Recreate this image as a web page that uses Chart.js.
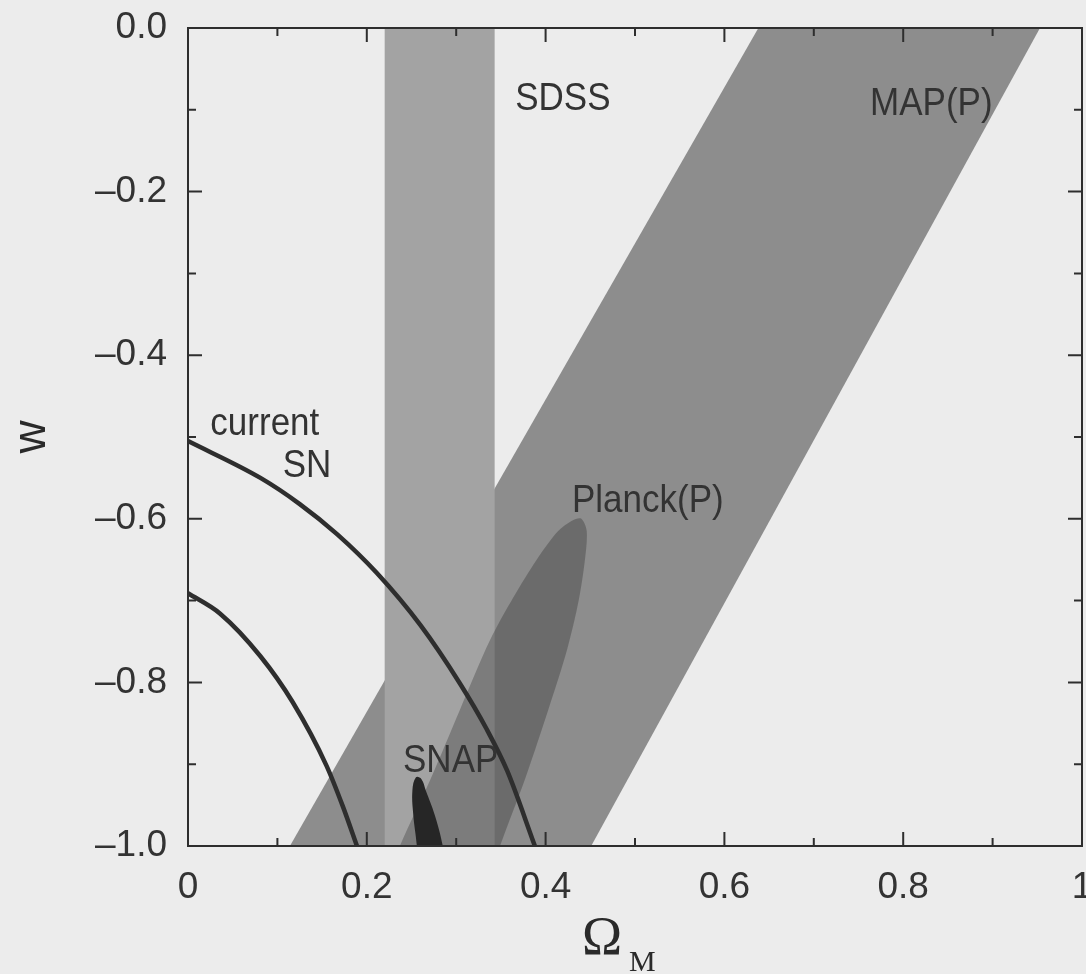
<!DOCTYPE html>
<html>
<head>
<meta charset="utf-8">
<script src="https://cdn.jsdelivr.net/npm/chart.js@4"></script>
<style>
  body { margin: 0; background: #ececec; }
  #wrap { width: 1086px; height: 974px; }
</style>
</head>
<body>
<div id="wrap"><canvas id="chart" width="1086" height="974"></canvas></div>
<script>
// axis ticks
const xTicks = [0, 0.2, 0.4, 0.6, 0.8, 1];
const xTickLabels = ['0', '0.2', '0.4', '0.6', '0.8', '1'];
const xMinorTicks = [0.1, 0.3, 0.5, 0.7, 0.9];
const yTicks = [-1, -0.8, -0.6, -0.4, -0.2, 0];
const yTickLabels = ['\u20131.0', '\u20130.8', '\u20130.6', '\u20130.4', '\u20130.2', '0.0'];
const yMinorTicks = [-0.9, -0.7, -0.5, -0.3, -0.1];

// MAP(P) band (Omega_M, w)
const mapOmega = [0.114, 0.638, 0.953, 0.451, 0.114];
const mapW = [-1.0, 0.0, 0.0, -1.0, -1.0];

// SDSS band
const sdssOmega = [0.220, 0.220, 0.343, 0.343, 0.220];
const sdssW = [-1.0, 0.0, 0.0, -1.0, -1.0];

// Planck(P) ellipse outline
const planckOmega = [0.228, 0.237, 0.271, 0.304, 0.338, 0.364, 0.390, 0.414, 0.430, 0.440, 0.446, 0.444, 0.437, 0.424, 0.404, 0.378, 0.349, 0.340, 0.228];
const planckW = [-1.03, -1.0, -0.919, -0.834, -0.748, -0.696, -0.650, -0.615, -0.602, -0.600, -0.615, -0.650, -0.700, -0.760, -0.830, -0.915, -1.0, -1.03, -1.03];

// SNAP ellipse outline
const snapOmega = [0.258, 0.256, 0.252, 0.251, 0.255, 0.261, 0.266, 0.276, 0.285, 0.290, 0.258];
const snapW = [-1.04, -1.0, -0.962, -0.932, -0.916, -0.918, -0.932, -0.962, -1.0, -1.04, -1.04];

// current SN contours
const snOuterOmega = [0, 0.081, 0.125, 0.167, 0.211, 0.260, 0.304, 0.334, 0.357, 0.388];
const snOuterW = [-0.505, -0.550, -0.582, -0.619, -0.666, -0.730, -0.801, -0.857, -0.908, -1.0];
const snInnerOmega = [0, 0.036, 0.081, 0.117, 0.155, 0.173, 0.189];
const snInnerW = [-0.691, -0.716, -0.768, -0.824, -0.902, -0.951, -1.0];

function pts(xs, ys) {
    return xs.map(function (x, i) { return { x: x, y: ys[i] }; });
}

const inkColor = '#2e2e2e';
const textFont = '"Liberation Sans", Arial, Helvetica, sans-serif';

// text placed in data coordinates (left / baseline)
const notes = [
    { text: 'SDSS', x: 0.366, y: -0.100 },
    { text: 'MAP(P)', x: 0.763, y: -0.106 },
    { text: 'current', x: 0.025, y: -0.498 },
    { text: 'SN', x: 0.106, y: -0.549 },
    { text: 'Planck(P)', x: 0.4295, y: -0.592 },
    { text: 'SNAP', x: 0.2405, y: -0.9095 }
];

const framePlugin = {
    id: 'frame',
    beforeDraw(chart) {
        const ctx = chart.ctx;
        ctx.save();
        ctx.fillStyle = '#ececec';
        ctx.fillRect(0, 0, chart.width, chart.height);
        ctx.restore();
    },
    afterDatasetsDraw(chart) {
        const ctx = chart.ctx;
        const a = chart.chartArea;
        const xs = chart.scales.x, ys = chart.scales.y;
        ctx.save();

        // labels inside the plot
        ctx.fillStyle = '#333';
        ctx.font = '35px ' + textFont;
        ctx.textAlign = 'left';
        ctx.textBaseline = 'alphabetic';
        notes.forEach(function (n) {
            const px = xs.getPixelForValue(n.x), py = ys.getPixelForValue(n.y);
            ctx.save();
            ctx.translate(px, py);
            ctx.scale(1, 1.1);
            ctx.fillText(n.text, 0, 0);
            ctx.restore();
        });

        // frame
        ctx.strokeStyle = inkColor;
        ctx.lineWidth = 2;
        ctx.strokeRect(a.left, a.top, a.right - a.left, a.bottom - a.top);

        // inward ticks on all four sides
        function xTick(v, len) {
            const p = xs.getPixelForValue(v);
            ctx.beginPath();
            ctx.moveTo(p, a.bottom); ctx.lineTo(p, a.bottom - len);
            ctx.moveTo(p, a.top); ctx.lineTo(p, a.top + len);
            ctx.stroke();
        }
        function yTick(v, len) {
            const p = ys.getPixelForValue(v);
            ctx.beginPath();
            ctx.moveTo(a.left, p); ctx.lineTo(a.left + len, p);
            ctx.moveTo(a.right, p); ctx.lineTo(a.right - len, p);
            ctx.stroke();
        }
        xTicks.forEach(function (v) { xTick(v, 14); });
        xMinorTicks.forEach(function (v) { xTick(v, 8); });
        yTicks.forEach(function (v) { yTick(v, 14); });
        yMinorTicks.forEach(function (v) { yTick(v, 8); });

        // axis titles
        ctx.fillStyle = '#2a2a2a';
        ctx.save();
        ctx.translate(32, 437);
        ctx.rotate(-Math.PI / 2);
        ctx.textAlign = 'center';
        ctx.textBaseline = 'middle';
        ctx.font = '46px ' + textFont;
        ctx.fillText('w', 0, 0);
        ctx.restore();

        ctx.textAlign = 'left';
        ctx.textBaseline = 'alphabetic';
        ctx.font = '54px "Liberation Serif", "Times New Roman", serif';
        ctx.fillText('\u03A9', 582, 954);
        ctx.font = '30px "Liberation Serif", "Times New Roman", serif';
        ctx.fillText('M', 629, 971);

        ctx.restore();
    }
};

function region(label, data, color, order, tension) {
    return {
        label: label,
        data: data,
        showLine: true,
        fill: 'shape',
        backgroundColor: color,
        borderColor: 'rgba(0,0,0,0)',
        borderWidth: 0,
        pointRadius: 0,
        tension: tension || 0,
        order: order
    };
}

function contour(label, data) {
    return {
        label: label,
        data: data,
        showLine: true,
        fill: false,
        borderColor: inkColor,
        borderWidth: 4.5,
        pointRadius: 0,
        cubicInterpolationMode: 'monotone',
        order: 1
    };
}

const ctx = document.getElementById('chart').getContext('2d');

new Chart(ctx, {
    type: 'scatter',
    data: {
        datasets: [
            region('MAP(P)', pts(mapOmega, mapW), '#8d8d8d', 6),
            region('SDSS', pts(sdssOmega, sdssW), '#a3a3a3', 5),
            region('Planck(P)', pts(planckOmega, planckW), 'rgba(20,20,20,0.27)', 4, 0.3),
            region('SNAP', pts(snapOmega, snapW), '#262626', 3, 0.4),
            contour('current SN outer', pts(snOuterOmega, snOuterW)),
            contour('current SN inner', pts(snInnerOmega, snInnerW))
        ]
    },
    options: {
        responsive: false,
        devicePixelRatio: 1,
        animation: false,
        layout: { padding: { top: 28, right: 4, left: 0, bottom: 0 } },
        plugins: {
            legend: { display: false },
            tooltip: { enabled: false }
        },
        scales: {
            x: {
                type: 'linear',
                min: 0,
                max: 1,
                afterBuildTicks: function (s) { s.ticks = xTicks.map(function (v) { return { value: v }; }); },
                afterFit: function (s) { s.height = 128; s.paddingLeft = 0; s.paddingRight = 0; },
                grid: { display: false, drawTicks: false },
                border: { display: false },
                ticks: {
                    autoSkip: false,
                    maxRotation: 0,
                    padding: 20,
                    color: '#333',
                    font: { family: textFont, size: 37 },
                    callback: function (v) { return xTickLabels[xTicks.indexOf(v)]; }
                }
            },
            y: {
                type: 'linear',
                min: -1,
                max: 0,
                afterBuildTicks: function (s) { s.ticks = yTicks.map(function (v) { return { value: v }; }); },
                afterFit: function (s) { s.width = 188; s.paddingTop = 0; s.paddingBottom = 0; },
                grid: { display: false, drawTicks: false },
                border: { display: false },
                ticks: {
                    autoSkip: false,
                    padding: 21,
                    color: '#333',
                    font: { family: textFont, size: 37 },
                    callback: function (v) { return yTickLabels[yTicks.indexOf(v)]; }
                }
            }
        }
    },
    plugins: [framePlugin]
});
</script>
</body>
</html>
